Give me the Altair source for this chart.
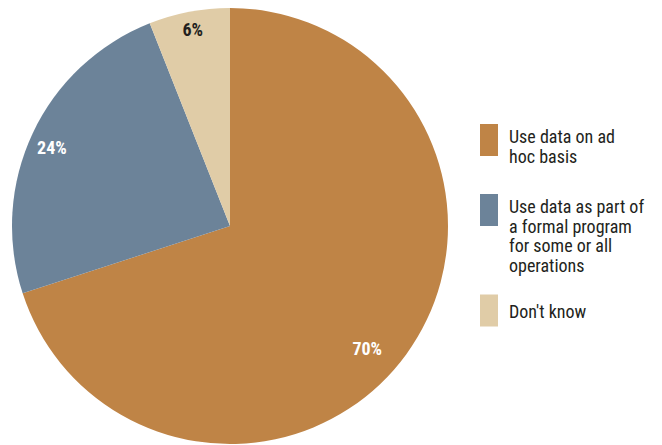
import altair as alt
import pandas as pd

categories = ["Use data on ad hoc basis",
              "Use data as part of a formal program for some or all operations",
              "Don't know"]
legend_labels = ["Use data on ad\nhoc basis",
                 "Use data as part of\na formal program\nfor some or all\noperations",
                 "Don't know"]
values = [70, 24, 6]
labels = ["70%", "24%", "6%"]
colors = ["#BF8446", "#6C8399", "#E0CCA7"]

df = pd.DataFrame({"cat": categories, "pct": values, "lbl": labels,
                   "leg": legend_labels, "order": [0, 1, 2]})

FONT = "Liberation Sans Narrow, Roboto Condensed, Liberation Sans, sans-serif"
rect_path = "M-1,-1.778L1,-1.778L1,1.778L-1,1.778Z"

color_scale = alt.Scale(domain=categories, range=colors)
legend_y = alt.Y("order:Q", axis=None,
                 scale=alt.Scale(domain=[0, 1, 2], range=[140, 210, 310.5], nice=False, zero=False))

base = alt.Chart(df)

pie = base.mark_arc(outerRadius=218, stroke=None).encode(
    theta=alt.Theta("pct:Q", stack=True),
    order=alt.Order("order:Q"),
    x=alt.value(230), y=alt.value(226),
    color=alt.Color("cat:N", scale=color_scale, legend=None),
)

text = base.transform_stack(
    stack="pct", groupby=[], as_=["t0", "t1"], sort=[alt.SortField("order")]
).transform_calculate(
    mid="(datum.t0 + datum.t1) / 2 + (datum.pct > 50 ? 1.7 : (datum.pct > 10 ? -0.5 : 0))",
    r="datum.pct > 50 ? 185 : (datum.pct > 10 ? 194 : 198.5)",
).mark_text(font=FONT, fontSize=18, fontWeight="bold").encode(
    theta=alt.Theta("mid:Q", scale=alt.Scale(domain=[0, 100]), stack=False),
    radius=alt.Radius("r:Q", scale=None),
    x=alt.value(230), y=alt.value(226),
    text="lbl:N",
    color=alt.condition("datum.pct < 10", alt.value("#231f20"), alt.value("white")),
)

swatch = base.mark_point(shape=rect_path, size=324, filled=True, opacity=1, strokeWidth=0).encode(
    x=alt.value(489),
    y=legend_y,
    color=alt.Color("cat:N", scale=color_scale, legend=None),
)

leg_multi = base.transform_filter("indexof(datum.leg, '\\n') >= 0").mark_text(
    font=FONT, fontSize=18, color="#231f20", align="left", baseline="alphabetic",
    dy=3, lineBreak="\n", lineHeight=19.5,
).encode(x=alt.value(509), y=legend_y, text="leg:N")

leg_single = base.transform_filter("indexof(datum.leg, '\\n') < 0").mark_text(
    font=FONT, fontSize=18, color="#231f20", align="left", baseline="alphabetic", dy=7,
).encode(x=alt.value(509), y=legend_y, text="leg:N")

chart = alt.layer(pie, text, swatch, leg_multi, leg_single).properties(
    width=662, height=445, padding=0,
    autosize=alt.AutoSizeParams(type="none"),
).configure_view(stroke=None)

chart.save("out.html", embed_options={"renderer": "svg", "actions": False})
